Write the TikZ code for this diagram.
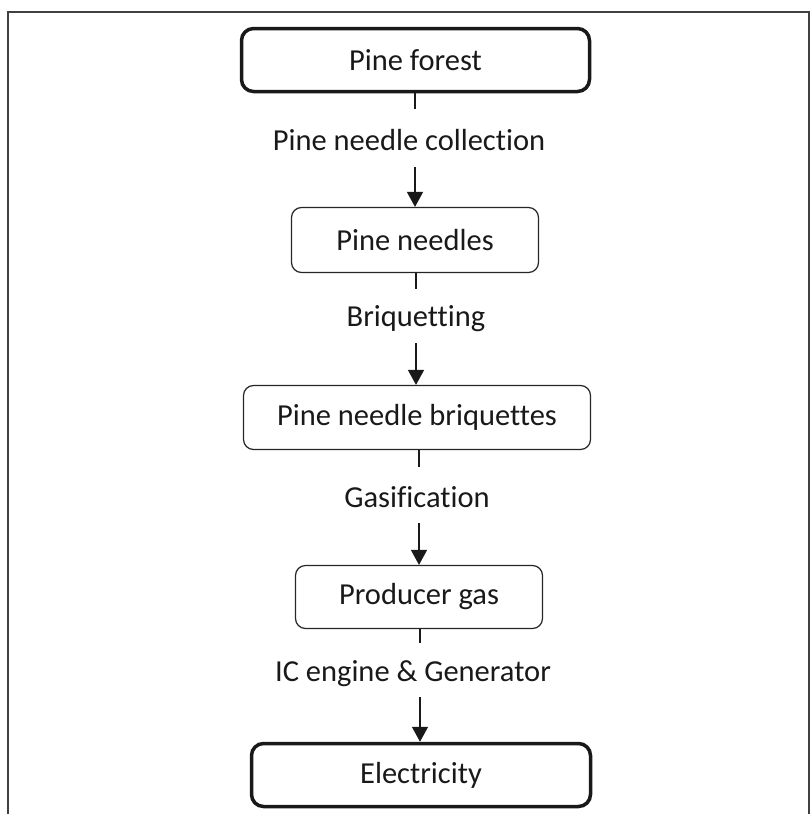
\documentclass[tikz,border=0pt]{standalone}
\usepackage{fontspec}
\setmainfont{Carlito}[Ligatures=CommonOff]
\usetikzlibrary{arrows.meta}
\begin{document}
\begin{tikzpicture}[x=1pt,y=-1pt,
  txt/.style={font=\fontsize{30.5}{36}\selectfont, text=black!90},
  thickbox/.style={txt, draw=black!90, line width=3.5pt, rounded corners=12pt, inner sep=0pt},
  thinbox/.style={txt, draw=black!85, line width=1.2pt, rounded corners=10pt, inner sep=0pt},
  lab/.style={txt, inner sep=0pt},
  conn/.style={line width=1.5pt, draw=black!90},
  arr/.style={conn, -{Triangle[length=15pt,width=16pt]}}]
\useasboundingbox (0,0) rectangle (811,814);
\draw[line width=2pt, draw=black!75] (8,814) -- (8,12) -- (809,12) -- (809,814);

\node[thickbox, minimum width=348pt, minimum height=63pt] (pf) at (415.5,60) {Pine forest};
\node[thinbox, minimum width=247pt, minimum height=65pt] (pn) at (415,240) {Pine needles};
\node[thinbox, minimum width=347pt, minimum height=64pt] (pb) at (417,417.5) {Pine needle briquettes};
\node[thinbox, minimum width=247pt, minimum height=63pt] (pg) at (419,597) {Producer gas};
\node[thickbox, minimum width=339pt, minimum height=63pt] (el) at (421,775) {Electricity};

\node[lab] (l1) at (409,140) {Pine needle collection};
\node[lab] (l2) at (416,319) {Briquetting};
\node[lab] (l3) at (417,497) {Gasification};
\node[lab] (l4) at (413,674) {IC engine \& Generator};

\coordinate (c1a) at (415,109);
\coordinate (c1b) at (415,167);
\coordinate (c2a) at (416,289);
\coordinate (c2b) at (416,343);
\coordinate (c3a) at (419,467);
\coordinate (c3b) at (419,523);
\coordinate (c4a) at (420,643);
\coordinate (c4b) at (420,697);

\draw[conn] (c1a |- pf.south) -- (c1a);
\draw[arr] (c1b) -- (c1b |- pn.north);
\draw[conn] (c2a |- pn.south) -- (c2a);
\draw[arr] (c2b) -- (c2b |- pb.north);
\draw[conn] (c3a |- pb.south) -- (c3a);
\draw[arr] (c3b) -- (c3b |- pg.north);
\draw[conn] (c4a |- pg.south) -- (c4a);
\draw[arr] (c4b) -- (c4b |- el.north);
\end{tikzpicture}
\end{document}
